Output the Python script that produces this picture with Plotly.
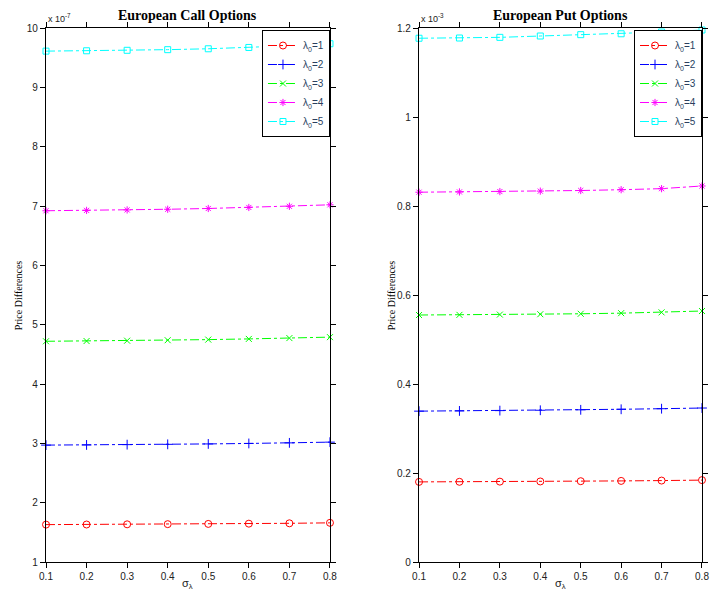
import plotly.graph_objects as go

# Volatility of the jump intensity
sigma_lambda = [0.1, 0.2, 0.3, 0.4, 0.5, 0.6, 0.7, 0.8]

# European call price differences (units of 1e-7)
call_l1 = [1.630, 1.632, 1.635, 1.638, 1.642, 1.646, 1.652, 1.660]
call_l2 = [2.970, 2.973, 2.978, 2.983, 2.990, 2.998, 3.008, 3.020]
call_l3 = [4.720, 4.724, 4.730, 4.738, 4.748, 4.760, 4.774, 4.790]
call_l4 = [6.920, 6.926, 6.934, 6.945, 6.958, 6.975, 6.995, 7.020]
call_l5 = [9.610, 9.616, 9.624, 9.635, 9.650, 9.672, 9.700, 9.735]

# European put price differences (units of 1e-3)
put_l1 = [0.1800, 0.1802, 0.1806, 0.1810, 0.1816, 0.1822, 0.1830, 0.1840]
put_l2 = [0.3390, 0.3395, 0.3402, 0.3410, 0.3420, 0.3432, 0.3445, 0.3460]
put_l3 = [0.5550, 0.5554, 0.5560, 0.5568, 0.5578, 0.5592, 0.5610, 0.5640]
put_l4 = [0.8310, 0.8316, 0.8324, 0.8334, 0.8348, 0.8366, 0.8390, 0.8450]
put_l5 = [1.1770, 1.1775, 1.1790, 1.1820, 1.1850, 1.1870, 1.1910, 1.1955]

series_names = ["λ<sub>0</sub>=1", "λ<sub>0</sub>=2", "λ<sub>0</sub>=3",
                "λ<sub>0</sub>=4", "λ<sub>0</sub>=5"]
call_series = [call_l1, call_l2, call_l3, call_l4, call_l5]
put_series = [put_l1, put_l2, put_l3, put_l4, put_l5]

colors = ["#ff0000", "#0000ff", "#00ff00", "#ff00ff", "#00ffff"]
symbols = ["circle-open", "cross-thin-open", "x-thin-open", "asterisk-open", "square-open"]
sizes = [7, 7, 6, 6, 6]

W, H = 715, 595
L, R, T, B = 46, 6, 28, 33
pw, ph = W - L - R, H - T - B
left_dom = [0, (333 - L) / pw]
right_dom = [(423 - L) / pw, 1]

fig = go.Figure()

for axes, legend, data in [(("x", "y"), "legend", call_series),
                           (("x2", "y2"), "legend2", put_series)]:
    for i in range(5):
        fig.add_trace(go.Scatter(
            x=sigma_lambda, y=data[i], name=series_names[i],
            mode="lines+markers", xaxis=axes[0], yaxis=axes[1], legend=legend,
            line=dict(color=colors[i], width=1, dash="dashdot"),
            marker=dict(symbol=symbols[i], size=sizes[i], color=colors[i],
                        line=dict(color=colors[i], width=1)),
            cliponaxis=False,
        ))

tick_font = dict(family="Liberation Sans, Arial, sans-serif", size=10, color="#222")
axis_common = dict(showgrid=False, zeroline=False, showline=True, linecolor="black",
                   linewidth=1.3, mirror="ticks", ticks="outside", ticklen=5,
                   tickcolor="black", tickfont=tick_font)
legend_common = dict(yanchor="top", xanchor="right", bgcolor="white",
                     bordercolor="black", borderwidth=1, tracegroupgap=0,
                     itemwidth=30,
                     font=dict(family="Liberation Sans, Arial, sans-serif", size=10))

fig.update_layout(
    width=W, height=H, margin=dict(l=L, r=R, t=T, b=B),
    paper_bgcolor="white", plot_bgcolor="white",
    xaxis=dict(domain=left_dom, range=[0.1, 0.8], tickvals=sigma_lambda,
               anchor="y", **axis_common),
    yaxis=dict(domain=[0, 1], range=[1, 10], tickvals=list(range(1, 11)),
               anchor="x", **axis_common),
    xaxis2=dict(domain=right_dom, range=[0.1, 0.8], tickvals=sigma_lambda,
                anchor="y2", **axis_common),
    yaxis2=dict(domain=[0, 1], range=[0, 1.2],
                tickvals=[0, 0.2, 0.4, 0.6, 0.8, 1.0, 1.2],
                ticktext=["0", "0.2", "0.4", "0.6", "0.8", "1", "1.2"],
                anchor="x2", **axis_common),
    legend=dict(x=left_dom[1], y=1 - 2 / ph, **legend_common),
    legend2=dict(x=1, y=1 - 2 / ph, **legend_common),
    showlegend=True,
)

title_font = dict(family="Liberation Serif, Times New Roman, serif", size=14, color="black")
label_font = dict(family="Liberation Serif, Times New Roman, serif", size=10, color="black")
exp_font = dict(family="Liberation Sans, Arial, sans-serif", size=9, color="#222")

annotations = []
for dom, title, expo in [(left_dom, "<b>European Call Options</b>", "x 10<sup>-7</sup>"),
                         (right_dom, "<b>European Put Options</b>", "x 10<sup>-3</sup>")]:
    cx = (dom[0] + dom[1]) / 2
    annotations.append(dict(text=title, x=cx, y=1 + 13 / ph, xref="paper", yref="paper",
                            showarrow=False, font=title_font, xanchor="center",
                            yanchor="middle"))
    annotations.append(dict(text=expo, x=dom[0], y=1 + 2 / ph, xref="paper", yref="paper",
                            showarrow=False, font=exp_font, xanchor="left",
                            yanchor="bottom"))
    annotations.append(dict(text="σ<sub>λ</sub>", x=cx, y=-22 / ph, xref="paper",
                            yref="paper", showarrow=False,
                            font=dict(family="Liberation Sans, Arial, sans-serif",
                                      size=11, color="#222"),
                            xanchor="center", yanchor="middle"))
    annotations.append(dict(text="Price Differences", x=dom[0] - 28 / pw, y=0.5,
                            xref="paper", yref="paper", showarrow=False, textangle=-90,
                            font=label_font, xanchor="center", yanchor="middle"))
fig.update_layout(annotations=annotations)

fig.write_html("out.html")
